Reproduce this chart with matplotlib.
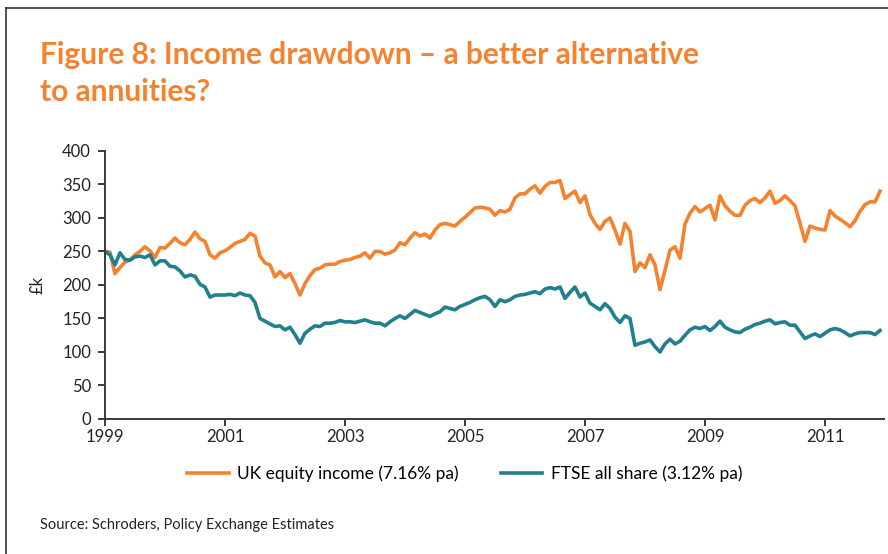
import numpy as np
import matplotlib
matplotlib.use('Agg')
import matplotlib.pyplot as plt
from matplotlib.lines import Line2D

plt.rcParams['font.family'] = ['Lato', 'DejaVu Sans']

# monthly values, Jan 1999 - Dec 2011 (£k)
equity_income = [
    250, 249, 217, 226, 234, 237, 245, 250, 257, 251, 241, 256,
    255, 262, 270, 263, 260, 268, 279, 269, 265, 245, 240, 248,
    251, 256, 262, 265, 268, 277, 273, 243, 233, 230, 212, 220,
    211, 217, 202, 185, 202, 214, 223, 225, 230, 231, 231, 235,
    237, 238, 241, 243, 248, 240, 250, 250, 246, 248, 252, 263,
    260, 270, 278, 273, 276, 270, 282, 290, 292, 290, 288, 295,
    301, 308, 315, 316, 315, 313, 304, 311, 309, 313, 330, 336,
    336, 343, 348, 337, 347, 353, 353, 356, 329, 335, 340, 323,
    333, 305, 292, 283, 295, 300, 282, 261, 292, 280, 220, 233,
    226, 245, 230, 193, 222, 252, 257, 240, 291, 307, 317, 309,
    314, 319, 297, 333, 318, 310, 304, 304, 319, 326, 329, 323,
    330, 340, 322, 326, 333, 326, 318, 292, 265, 288, 285, 283,
    282, 311, 303, 298, 293, 287, 296, 310, 320, 324, 324, 340,
]
ftse_all_share = [
    250, 245, 230, 248, 238, 237, 242, 243, 241, 245, 230, 236,
    236, 228, 227, 221, 212, 215, 213, 201, 197, 182, 185, 185,
    185, 186, 184, 188, 185, 184, 174, 150, 146, 142, 138, 139,
    133, 137, 126, 113, 128, 134, 139, 138, 143, 143, 144, 147,
    145, 145, 144, 146, 148, 145, 143, 143, 139, 145, 150, 154,
    150, 156, 162, 159, 156, 153, 157, 160, 167, 165, 163, 168,
    171, 174, 178, 181, 183, 178, 168, 178, 175, 178, 183, 185,
    186, 188, 190, 187, 194, 196, 194, 197, 180, 189, 197, 182,
    188, 173, 168, 163, 172, 165, 152, 144, 154, 150, 110, 113,
    115, 118, 108, 100, 112, 119, 112, 116, 125, 133, 137, 135,
    138, 132, 138, 146, 137, 133, 130, 129, 134, 137, 141, 143,
    146, 148, 142, 144, 145, 140, 140, 130, 120, 124, 127, 123,
    128, 133, 135, 133, 129, 124, 127, 129, 129, 129, 126, 132,
]
years = [1999, 2001, 2003, 2005, 2007, 2009, 2011]
y_ticks = [0, 50, 100, 150, 200, 250, 300, 350, 400]

orange = '#F5822F'
teal = '#21808E'
axis_col = '#3a3a3a'

dates = 1999 + np.arange(len(equity_income)) / 12.0

fig = plt.figure(figsize=(8.88, 5.54), dpi=100)
ax = fig.add_axes([0.1182, 0.2437, 0.8773, 0.4838])

ax.plot(dates, equity_income, color=orange, lw=2.6, solid_joinstyle='round',
        label='UK equity income (7.16% pa)')
ax.plot(dates, ftse_all_share, color=teal, lw=2.6, solid_joinstyle='round',
        label='FTSE all share (3.12% pa)')

ax.set_xlim(1999, 1999 + 155.8 / 12)
ax.set_ylim(0, 400)
ax.set_xticks(years)
ax.set_xticklabels([str(y) for y in years])
ax.set_yticks(y_ticks)
ax.set_ylabel('£k', fontsize=12, color='#222222', labelpad=12)

for side in ['top', 'right']:
    ax.spines[side].set_visible(False)
for side in ['left', 'bottom']:
    ax.spines[side].set_color(axis_col)
    ax.spines[side].set_linewidth(1.4)
ax.tick_params(direction='out', length=5, width=1.4, color=axis_col,
               labelsize=12, labelcolor='#222222')
ax.tick_params(axis='y', pad=5)
ax.tick_params(axis='x', pad=2)

ax.legend(loc='upper center', bbox_to_anchor=(0.462, -0.115), ncol=2,
          frameon=False, fontsize=12.5, handlelength=2.4, columnspacing=2.4,
          handletextpad=0.5)

fig.text(0.045, 0.885, 'Figure 8: Income drawdown \u2013 a better alternative',
         color=orange, fontsize=21.5, fontweight='bold', va='baseline')
fig.text(0.045, 0.817, 'to annuities?', color=orange, fontsize=21.5,
         fontweight='bold', va='baseline')
fig.text(0.045, 0.045, 'Source: Schroders, Policy Exchange Estimates',
         fontsize=10.5, color='#222222')

# frame lines along the top and left edge
fig.add_artist(Line2D([0.0068, 1.0], [0.985, 0.985], color='#333333', lw=1.2,
                      transform=fig.transFigure))
fig.add_artist(Line2D([0.0068, 0.0068], [0.0, 0.985], color='#333333', lw=1.2,
                      transform=fig.transFigure))

fig.savefig('out.png', dpi=100)
